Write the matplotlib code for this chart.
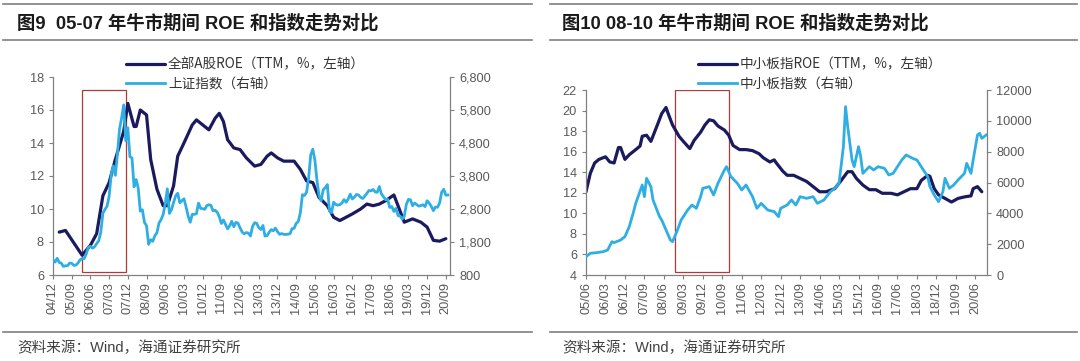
import matplotlib
matplotlib.use("Agg")
import matplotlib.pyplot as plt
from matplotlib.lines import Line2D
from matplotlib.patches import Rectangle
from matplotlib.ticker import FuncFormatter

plt.rcParams['font.family'] = ['Liberation Sans', 'Noto Sans CJK SC']

# ---------------- data: figure 9 (2004/12 - 2020/10) ----------------
left_origin = "2004-12"
left_roe_dates = ["2005-03", "2005-06", "2006-02", "2006-06", "2006-09", "2006-12", "2007-03",
                  "2007-06", "2007-10", "2007-12", "2008-03", "2008-04", "2008-06", "2008-09",
                  "2008-11", "2009-02", "2009-05", "2009-07", "2009-10", "2009-12", "2010-03",
                  "2010-07", "2010-09", "2010-12", "2011-03", "2011-06", "2011-08", "2011-10",
                  "2011-12", "2012-03", "2012-06", "2012-09", "2013-01", "2013-04", "2013-07",
                  "2013-09", "2013-12", "2014-03", "2014-08", "2014-11", "2015-02", "2015-05",
                  "2015-08", "2015-12", "2016-03", "2016-06", "2016-09", "2016-12", "2017-04",
                  "2017-07", "2017-10", "2018-01", "2018-04", "2018-08", "2018-10", "2019-01",
                  "2019-05", "2019-09", "2019-12", "2020-03", "2020-06", "2020-09"]
left_roe = [8.6, 8.7, 7.2, 7.8, 8.5, 10.8, 11.6,
            13.0, 14.7, 16.4, 15.0, 15.0, 16.0, 15.7,
            13.0, 11.2, 10.2, 10.2, 11.4, 13.2, 14.0,
            15.1, 15.4, 15.1, 14.8, 15.5, 15.8, 15.3,
            14.2, 13.7, 13.6, 13.1, 12.6, 12.7, 13.2,
            13.4, 13.1, 12.9, 12.9, 12.4, 11.7, 11.6,
            10.7, 10.2, 9.5, 9.3, 9.5, 9.7, 10.0,
            10.3, 10.2, 10.3, 10.5, 10.85, 10.2, 9.2,
            9.4, 9.2, 8.9, 8.1, 8.05, 8.2]
# 上证指数 monthly, 2004-12 .. 2020-10
left_index = [1266,
              1191, 1306, 1181, 1159, 1060, 1080, 1083, 1162, 1155, 1092, 1099, 1161,
              1258, 1299, 1298, 1440, 1641, 1672, 1612, 1658, 1752, 1837, 2099, 2675,
              2786, 2881, 3183, 3841, 4109, 3821, 4471, 5218, 5552, 5955, 4871, 5262,
              4383, 4348, 3473, 3693, 3433, 2736, 2776, 2397, 2293, 1729, 1871, 1821,
              1991, 2082, 2374, 2477, 2633, 2959, 3412, 2668, 2779, 2996, 3195, 3277,
              2989, 3051, 3110, 2871, 2592, 2398, 2638, 2638, 2656, 2979, 2820, 2808,
              2791, 2905, 2928, 2911, 2743, 2762, 2701, 2568, 2359, 2468, 2333, 2199,
              2292, 2428, 2263, 2396, 2373, 2225, 2103, 2047, 2086, 2069, 1980, 2269,
              2385, 2365, 2237, 2178, 2301, 1979, 1994, 2098, 2175, 2141, 2220, 2116,
              2033, 2056, 2033, 2026, 2039, 2048, 2202, 2217, 2364, 2420, 2683, 3235,
              3210, 3310, 3748, 4442, 4612, 4277, 3664, 3206, 3053, 3383, 3445, 3539,
              2738, 2688, 3004, 2938, 2917, 2930, 2979, 3085, 3005, 3100, 3250, 3104,
              3159, 3242, 3223, 3155, 3117, 3192, 3273, 3361, 3349, 3393, 3317, 3307,
              3481, 3259, 3169, 3082, 3095, 2847, 2876, 2725, 2821, 2603, 2588, 2494,
              2585, 2941, 3091, 3078, 2899, 2979, 2933, 2886, 2905, 2929, 2872, 3050,
              2977, 2880, 2750, 2860, 2852, 2985, 3310, 3396, 3218, 3225]
left_ticks = ["04/12", "05/09", "06/06", "07/03", "07/12", "08/09", "09/06", "10/03",
              "10/12", "11/09", "12/06", "13/03", "13/12", "14/09", "15/06", "16/03",
              "16/12", "17/09", "18/06", "19/03", "19/12", "20/09"]
left_box = ("2006-02", "2007-11", 6.2, 17.2)

# ---------------- data: figure 10 (2005/06 - 2020/11) ----------------
right_origin = "2005-06"
right_roe_dates = ["2005-06", "2005-08", "2005-10", "2005-12", "2006-03", "2006-05", "2006-07",
                   "2006-09", "2006-10", "2006-12", "2007-02", "2007-05", "2007-07", "2007-08",
                   "2007-10", "2007-12", "2008-03", "2008-05", "2008-07", "2008-08", "2008-10",
                   "2009-01", "2009-03", "2009-06", "2009-08", "2009-11", "2010-01", "2010-03",
                   "2010-05", "2010-07", "2010-10", "2010-12", "2011-02", "2011-05", "2011-08",
                   "2011-11", "2012-02", "2012-04", "2012-07", "2012-09", "2012-10", "2013-01",
                   "2013-03", "2013-06", "2013-09", "2013-12", "2014-03", "2014-06", "2014-09",
                   "2015-01", "2015-04", "2015-07", "2015-09", "2015-11", "2016-02", "2016-05",
                   "2016-08", "2016-11", "2017-03", "2017-06", "2017-09", "2017-12", "2018-03",
                   "2018-05", "2018-08", "2018-09", "2018-11", "2019-01", "2019-04", "2019-07",
                   "2019-10", "2020-01", "2020-04", "2020-05", "2020-07", "2020-09"]
right_roe = [12.1, 13.9, 14.9, 15.25, 15.5, 15.0, 14.9,
             16.4, 16.4, 15.25, 15.7, 16.2, 16.55, 17.5,
             17.6, 17.0, 18.6, 19.7, 20.3, 19.7, 18.6,
             17.5, 17.0, 16.3, 17.1, 17.9, 18.6, 19.1,
             19.0, 18.5, 18.1, 17.6, 16.6, 16.2, 16.2,
             16.1, 15.8, 15.4, 15.0, 15.2, 14.9, 14.1,
             13.7, 13.7, 13.4, 13.1, 12.6, 12.1, 12.1,
             12.4, 13.2, 14.05, 14.05, 13.4, 12.75, 12.3,
             12.3, 11.95, 11.95, 11.8, 12.1, 12.4, 12.4,
             13.2, 13.7, 13.6, 12.4, 11.8, 11.45, 11.1,
             11.45, 11.6, 11.7, 12.4, 12.6, 12.1]
right_index_dates = ["2005-06", "2005-08", "2005-11", "2006-02", "2006-04", "2006-06", "2006-07",
                     "2006-10", "2006-12", "2007-02", "2007-04", "2007-05", "2007-08", "2007-09",
                     "2007-10", "2007-12", "2008-01", "2008-04", "2008-05", "2008-07", "2008-09",
                     "2008-10", "2008-12", "2009-02", "2009-05", "2009-07", "2009-09", "2009-11",
                     "2009-12", "2010-03", "2010-05", "2010-07", "2010-10", "2010-11", "2011-01",
                     "2011-04", "2011-06", "2011-08", "2011-11", "2012-01", "2012-03", "2012-06",
                     "2012-09", "2012-11", "2012-12", "2013-03", "2013-05", "2013-07", "2013-09",
                     "2013-12", "2014-03", "2014-05", "2014-08", "2014-11", "2015-01", "2015-03",
                     "2015-05", "2015-06", "2015-07", "2015-09", "2015-10", "2015-12", "2016-01",
                     "2016-02", "2016-05", "2016-07", "2016-09", "2016-12", "2017-02", "2017-04",
                     "2017-06", "2017-08", "2017-10", "2018-01", "2018-03", "2018-05", "2018-08",
                     "2018-09", "2018-11", "2019-01", "2019-03", "2019-04", "2019-06", "2019-08",
                     "2019-10", "2020-01", "2020-02", "2020-04", "2020-05", "2020-07", "2020-08",
                     "2020-09", "2020-11"]
right_index = [1190, 1410, 1450, 1514, 1620, 2163, 2100,
               2270, 2490, 3136, 4108, 4648, 5838, 5082,
               6270, 5730, 4865, 3784, 3568, 2920, 2270,
               2163, 2811, 3568, 4216, 4540, 4325, 5082,
               5622, 5730, 5190, 5946, 6811, 7027, 6379,
               5946, 5514, 5838, 5082, 4325, 4650, 4216,
               4108, 3784, 4325, 4540, 4865, 4540, 5082,
               4973, 5082, 4650, 4865, 5406, 5622, 5946,
               8325, 10919, 9622, 7460, 7027, 8325, 7676,
               6595, 7027, 6811, 7027, 6919, 6487, 6595,
               7027, 7460, 7784, 7568, 7460, 7027, 6379,
               5730, 5190, 4757, 5406, 6270, 5622, 5838,
               6162, 6595, 7243, 6595, 7460, 9081, 9190,
               8865, 9081]
right_ticks = ["05/06", "06/03", "06/12", "07/09", "08/06", "09/03", "09/12", "10/09",
               "11/06", "12/03", "12/12", "13/09", "14/06", "15/03", "15/12", "16/09",
               "17/06", "18/03", "18/12", "19/09", "20/06"]
right_box = ("2008-11", "2010-12", 4.3, 22.0)

titles = ["图9  05-07 年牛市期间 ROE 和指数走势对比", "图10 08-10 年牛市期间 ROE 和指数走势对比"]
roe_labels = ["全部A股ROE（TTM，%，左轴）", "中小板指ROE（TTM，%，左轴）"]
index_labels = ["上证指数（右轴）", "中小板指数（右轴）"]
source = "资料来源：Wind，海通证券研究所"

NAVY = '#1b1a5e'
BLUE = '#2eaee3'
GRAY = '#595959'
RULE = '#7f7f7f'


def month_idx(s, origin):
    y, m = map(int, s.split('-'))
    oy, om = map(int, origin.split('-'))
    return (y - oy) * 12 + (m - om)


def style_axes(ax, ax2):
    for a in (ax, ax2):
        a.spines['top'].set_visible(False)
        for sp in ('left', 'right', 'bottom'):
            a.spines[sp].set_color('#808080')
            a.spines[sp].set_linewidth(0.9)
        a.tick_params(colors='#808080', labelcolor=GRAY, labelsize=9.2, length=3, width=0.8)
    ax.spines['right'].set_visible(False)
    ax2.spines['left'].set_visible(False)
    ax2.spines['bottom'].set_visible(False)


fig = plt.figure(figsize=(10.8, 3.61), dpi=100)

panels = [
    dict(pos=[53 / 1080, 1 - 275 / 361, 397 / 1080, 198 / 361], origin=left_origin,
         roe_d=left_roe_dates, roe=left_roe, idx_d=None, idx=left_index,
         ticks=left_ticks, xmax=191, ylim=(6, 18), ystep=2, y2lim=(800, 6800), y2step=1000,
         comma=True, box=left_box, leg_x=119 / 1080),
    dict(pos=[586 / 1080, 1 - 275 / 361, 401 / 1080, 185 / 361], origin=right_origin,
         roe_d=right_roe_dates, roe=right_roe, idx_d=right_index_dates, idx=right_index,
         ticks=right_ticks, xmax=185.4, ylim=(4, 22), ystep=2, y2lim=(0, 12000), y2step=2000,
         comma=False, box=right_box, leg_x=691 / 1080),
]

for i, p in enumerate(panels):
    ax = fig.add_axes(p['pos'])
    ax2 = ax.twinx()
    xr = [month_idx(d, p['origin']) for d in p['roe_d']]
    if p['idx_d'] is None:
        xi = list(range(len(p['idx'])))
    else:
        xi = [month_idx(d, p['origin']) for d in p['idx_d']]
    l1, = ax.plot(xr, p['roe'], color=NAVY, lw=2.3, solid_capstyle='round', solid_joinstyle='round')
    l2, = ax2.plot(xi, p['idx'], color=BLUE, lw=2.0, solid_joinstyle='round')

    bx0 = month_idx(p['box'][0], p['origin'])
    bx1 = month_idx(p['box'][1], p['origin'])
    ax.add_patch(Rectangle((bx0, p['box'][2]), bx1 - bx0, p['box'][3] - p['box'][2],
                           fill=False, edgecolor='#b03a3a', lw=0.9, zorder=1))

    ax.set_xlim(0, p['xmax'])
    ax.set_ylim(*p['ylim'])
    ax2.set_ylim(*p['y2lim'])
    ax.set_yticks(range(p['ylim'][0], p['ylim'][1] + 1, p['ystep']))
    ax2.set_yticks(range(p['y2lim'][0], p['y2lim'][1] + 1, p['y2step']))
    if p['comma']:
        ax2.yaxis.set_major_formatter(FuncFormatter(lambda v, _: f"{int(v):,}"))
    tick_pos = [9 * k for k in range(len(p['ticks']))]
    ax.set_xticks(tick_pos)
    ax.set_xticklabels(p['ticks'], rotation=90)
    style_axes(ax, ax2)
    ax.tick_params(axis='x', pad=2)

    fig.legend([l1, l2], [roe_labels[i], index_labels[i]], loc='upper left',
               bbox_to_anchor=(p['leg_x'], 1 - 51 / 361), frameon=False, borderpad=0,
               handlelength=2.9, handletextpad=0.2, labelspacing=0.4,
               prop={'family': ['Noto Sans CJK SC'], 'size': 9.8}, labelcolor='#333333')

    # header / footer
    x0, x1 = (3 / 1080, 532 / 1080) if i == 0 else (550 / 1080, 1077 / 1080)
    for yy in (4, 40, 332):
        fig.add_artist(Line2D([x0, x1], [1 - yy / 361] * 2, color=RULE, lw=1.2))
    tx = 17 / 1080 if i == 0 else 562 / 1080
    fig.text(tx, 1 - 23 / 361, titles[i], fontsize=13.2, fontweight='bold', va='center',
             color='#1a1a1a')
    fig.text(tx, 1 - 348 / 361, source, fontsize=10.5, va='center', color='#404040',
             family=['Liberation Sans', 'Noto Sans CJK SC'])

fig.savefig('out.png', dpi=100)
